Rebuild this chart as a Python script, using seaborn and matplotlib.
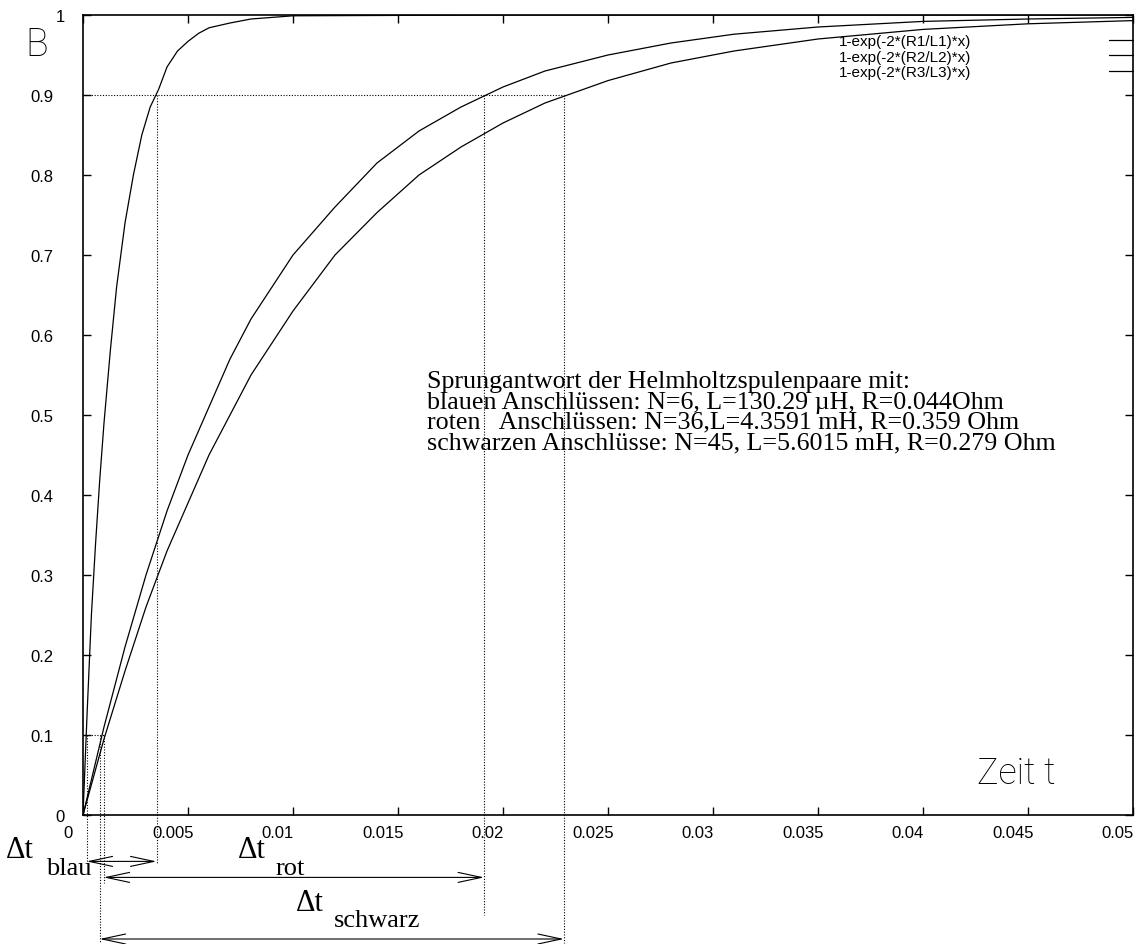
import numpy as np
import pandas as pd
import seaborn as sns
import matplotlib.pyplot as plt
import matplotlib.transforms as mtransforms

# Kurvenpunkte (Zeit t in s, B normiert)
t_blau = [0, 0.0002, 0.0004, 0.0006, 0.0008, 0.001, 0.0013, 0.0016, 0.002, 0.0024,
          0.0028, 0.0032, 0.0036, 0.004, 0.0045, 0.005, 0.0055, 0.006, 0.007, 0.008,
          0.009, 0.01, 0.02, 0.03, 0.04, 0.05]
B_blau = [0, 0.13, 0.25, 0.34, 0.42, 0.49, 0.58, 0.66, 0.74, 0.80,
          0.85, 0.885, 0.907, 0.935, 0.955, 0.967, 0.977, 0.984, 0.99, 0.995,
          0.997, 0.999, 1.0, 1.0, 1.0, 1.0]
t_rot = [0, 0.001, 0.002, 0.003, 0.004, 0.005, 0.006, 0.007, 0.008, 0.009, 0.01, 0.012,
         0.014, 0.016, 0.018, 0.02, 0.022, 0.025, 0.028, 0.031, 0.035, 0.04, 0.045, 0.05]
B_rot = [0, 0.11, 0.21, 0.30, 0.38, 0.45, 0.51, 0.57, 0.62, 0.66, 0.70, 0.76,
         0.815, 0.855, 0.885, 0.91, 0.93, 0.95, 0.965, 0.976, 0.985, 0.992, 0.995, 0.997]
t_schwarz = t_rot
B_schwarz = [0, 0.095, 0.18, 0.26, 0.33, 0.39, 0.45, 0.50, 0.55, 0.59, 0.63, 0.70,
             0.753, 0.80, 0.835, 0.865, 0.89, 0.918, 0.94, 0.955, 0.97, 0.982, 0.989, 0.993]
kurven = ["1-exp(-2*(R1/L1)*x)", "1-exp(-2*(R2/L2)*x)", "1-exp(-2*(R3/L3)*x)"]

# 10%- und 90%-Zeitpunkte (blau, rot, schwarz) fuer die Hilfslinien
t_10 = [0.00017, 0.00098, 0.00079]
t_90 = [0.0035, 0.0191, 0.0229]
pfeil_y = [-0.058, -0.078, -0.155]
linie_unten_10 = [-0.06, -0.085, -0.16]
linie_unten_90 = [-0.06, -0.125, -0.16]
dt_namen = ["blau", "rot", "schwarz"]

x_ticks = [0, 0.005, 0.01, 0.015, 0.02, 0.025, 0.03, 0.035, 0.04, 0.045, 0.05]
x_tick_labels = ["0", "0.005", "0.01", "0.015", "0.02", "0.025", "0.03", "0.035", "0.04", "0.045", "0.05"]
y_ticks = [0, 0.1, 0.2, 0.3, 0.4, 0.5, 0.6, 0.7, 0.8, 0.9, 1.0]
y_tick_labels = ["0", "0.1", "0.2", "0.3", "0.4", "0.5", "0.6", "0.7", "0.8", "0.9", "1"]

info = ["Sprungantwort der Helmholtzspulenpaare mit:",
        "blauen Anschlüssen: N=6, L=130.29 µH, R=0.044Ohm",
        "roten   Anschlüssen: N=36,L=4.3591 mH, R=0.359 Ohm",
        "schwarzen Anschlüsse: N=45, L=5.6015 mH, R=0.279 Ohm"]

df = pd.concat([
    pd.DataFrame({"t": t_blau, "B": B_blau, "Kurve": kurven[0]}),
    pd.DataFrame({"t": t_rot, "B": B_rot, "Kurve": kurven[1]}),
    pd.DataFrame({"t": t_schwarz, "B": B_schwarz, "Kurve": kurven[2]}),
])

sns.set_theme(style="ticks", rc={"axes.edgecolor": "black", "xtick.color": "black",
                                 "ytick.color": "black", "text.color": "black"})
plt.rcParams["font.family"] = ["Liberation Sans", "DejaVu Sans"]

W, H = 1142, 945
def fig_pos(x, y):
    return x / W, 1 - y / H

fig = plt.figure(figsize=(W / 100, H / 100), dpi=100)
ax = fig.add_axes([83 / W, 1 - 816 / H, 1050 / W, 800 / H])

sns.lineplot(data=df, x="t", y="B", hue="Kurve", palette=["black"] * 3,
             estimator=None, sort=False, linewidth=0.9, ax=ax)

ax.set_xlim(0, 0.05)
ax.set_ylim(0, 1)
ax.set_xticks(x_ticks)
ax.set_xticklabels(x_tick_labels, fontsize=12)
ax.set_yticks(y_ticks)
ax.set_yticklabels(y_tick_labels, fontsize=12)
ax.set_xlabel("")
ax.set_ylabel("")
ax.tick_params(direction="in", length=6, width=1, top=True, right=True)
ax.tick_params(axis="x", pad=7)
ax.tick_params(axis="y", pad=21)
for s in ax.spines.values():
    s.set_linewidth(1.2)
    s.set_visible(True)

# gnuplot-typischer Versatz der Beschriftung
shift_x = mtransforms.ScaledTranslation(-0.15, 0, fig.dpi_scale_trans)
for lbl in ax.get_xticklabels():
    lbl.set_transform(lbl.get_transform() + shift_x)
shift_y = mtransforms.ScaledTranslation(0.11, 0, fig.dpi_scale_trans)
for lbl in ax.get_yticklabels():
    if len(lbl.get_text()) == 1:
        lbl.set_transform(lbl.get_transform() + shift_y)

# Hilfslinien
dot = dict(color="black", lw=0.8, ls=(0, (1, 1.5)), clip_on=False)
ax.plot([0, max(t_90)], [0.9, 0.9], **dot)
ax.plot([0, max(t_10)], [0.1, 0.1], **dot)
for i in range(3):
    ax.plot([t_10[i], t_10[i]], [0.1, linie_unten_10[i]], **dot)
    ax.plot([t_90[i], t_90[i]], [0.9, linie_unten_90[i]], **dot)
    ax.annotate("", xy=(t_90[i], pfeil_y[i]), xytext=(t_10[i], pfeil_y[i]),
                annotation_clip=False,
                arrowprops=dict(arrowstyle="<->,head_length=1.4,head_width=0.3",
                                lw=0.8, color="black", shrinkA=0, shrinkB=0))

# Legende wie bei gnuplot: Text rechtsbuendig, Linie dahinter
handles, labels = ax.get_legend_handles_labels()
ax.legend(handles, labels, loc="upper right", bbox_to_anchor=(1.0, 0.976),
          frameon=False, markerfirst=False, handlelength=1.6, handletextpad=9.0,
          labelspacing=0.1, borderpad=0, borderaxespad=0, fontsize=11)

ax.text(0.0164, 0.556, "\n".join(info), family="Liberation Serif", fontsize=18.7,
        va="top", ha="left", linespacing=0.9)

thin = ["Roboto", "DejaVu Sans"]
fig.text(*fig_pos(25, 26), "B", family=thin, fontweight="light", fontsize=27,
         va="top", ha="left")
fig.text(*fig_pos(977, 756), "Zeit t", family=thin, fontweight="light", fontsize=26,
         va="top", ha="left")

serif = ["Liberation Serif", "DejaVu Serif"]
dt_pos = [(6, 851, 46, 869), (238, 851, 276, 869), (296, 904, 334, 921)]
for name, (x1, y1, x2, y2) in zip(dt_namen, dt_pos):
    fig.text(*fig_pos(x1, y1), "Δt", family=serif, fontsize=22, va="center", ha="left")
    fig.text(*fig_pos(x2, y2), name, family=serif, fontsize=19, va="center", ha="left")

fig.savefig("out.png", dpi=100)
